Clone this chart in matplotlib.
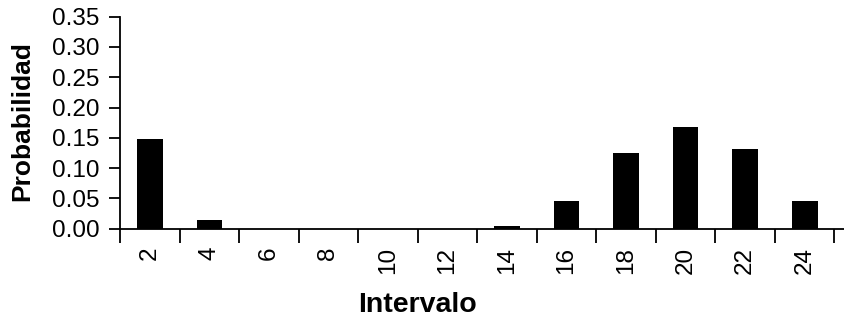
import matplotlib
matplotlib.use("Agg")
import matplotlib.pyplot as plt
import numpy as np

intervals = ["2", "4", "6", "8", "10", "12", "14", "16", "18", "20", "22", "24"]
probability = [0.148, 0.0145, 0.0, 0.0, 0.0, 0.0, 0.004, 0.046, 0.1255, 0.1675, 0.132, 0.046]

plt.rcParams['font.family'] = ['Liberation Sans', 'DejaVu Sans']

fig = plt.figure(figsize=(8.44, 3.22), dpi=100)
ax = fig.add_axes([120 / 844, 93.3 / 322, 724 / 844, 212 / 322])

x = np.arange(len(intervals))
ax.bar(x, probability, width=0.43, color='black', linewidth=0)

ax.set_ylim(0, 0.35)
ax.set_xlim(-0.5, len(intervals) - 0.34)
ax.set_yticks(np.arange(0, 0.351, 0.05))
ax.set_yticklabels([f"{v:.2f}" for v in np.arange(0, 0.351, 0.05)], fontsize=17.5)

# category labels centred, tick marks between categories
ax.set_xticks(x)
ax.set_xticklabels(intervals, rotation=90, fontsize=17.5)
ax.set_xticks(np.arange(-0.5, len(intervals)), minor=True)
ax.tick_params(axis='x', which='major', length=0, pad=13)
ax.tick_params(axis='x', which='minor', length=10, width=1.3, direction='out')
ax.tick_params(axis='y', length=8, width=1.3, direction='out', pad=7)

for side in ['top', 'right']:
    ax.spines[side].set_visible(False)
for side in ['left', 'bottom']:
    ax.spines[side].set_linewidth(1.3)

ax.set_ylabel("Probabilidad", fontsize=19, fontweight='bold', va='center')
ax.yaxis.set_label_coords((22 - 120) / 724, (228.7 - 121) / 212)
ax.set_xlabel("Intervalo", fontsize=20.5, fontweight='bold', va='center')
ax.xaxis.set_label_coords((418 - 120) / 724, -(305 - 228.7) / 212)

fig.savefig("out.png", dpi=100)
